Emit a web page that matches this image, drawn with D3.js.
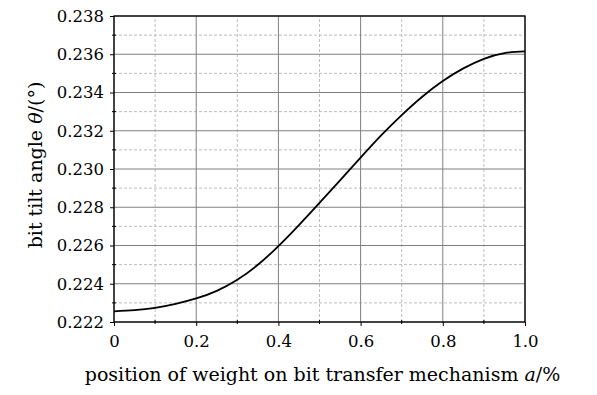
<!DOCTYPE html>
<html>
<head>
<meta charset="utf-8">
<script src="https://cdn.jsdelivr.net/npm/d3@7"></script>
<style>
  body { margin: 0; background: #fff; }
  text { font-family: "DejaVu Serif", serif; fill: #000; }
</style>
</head>
<body>
<div id="viz"></div>
<script>
var width = 597,
    height = 395,
    margin = {top: 16, right: 72, bottom: 73, left: 114};

// weight position a and tilt angle theta
var posA  = [0, 0.05, 0.1, 0.15, 0.2, 0.25, 0.3, 0.35, 0.4, 0.45, 0.5,
             0.55, 0.6, 0.65, 0.7, 0.75, 0.8, 0.85, 0.9, 0.95, 1.0];
var theta = [0.22256, 0.22262, 0.22274, 0.22295, 0.22323, 0.22363, 0.22421, 0.22499, 0.22597, 0.22707, 0.22823,
             0.22941, 0.23060, 0.23176, 0.23282, 0.23378, 0.23460, 0.23526, 0.23576, 0.23606, 0.23615];

var xTicks = [0, 0.2, 0.4, 0.6, 0.8, 1.0];
var xMinor = [0.1, 0.3, 0.5, 0.7, 0.9];
var yTicks = [0.222, 0.224, 0.226, 0.228, 0.230, 0.232, 0.234, 0.236, 0.238];
var yMinor = [0.223, 0.225, 0.227, 0.229, 0.231, 0.233, 0.235, 0.237];

var pts = posA.map(function(a, i) { return {a: a, t: theta[i]}; });

var svg = d3.select("#viz").append("svg")
    .attr("width", width)
    .attr("height", height);

var x = d3.scaleLinear().domain([0, 1]).range([margin.left, width - margin.right]);
var y = d3.scaleLinear().domain([0.222, 0.238]).range([height - margin.bottom, margin.top]);

var grid = svg.append("g");

// dashed minor grid
grid.selectAll("line.vmin").data(xMinor).enter().append("line")
    .attr("x1", d => x(d)).attr("x2", d => x(d))
    .attr("y1", y(0.222)).attr("y2", y(0.238))
    .style("stroke", "#bdbdbd").style("stroke-dasharray", "3,2");
grid.selectAll("line.hmin").data(yMinor).enter().append("line")
    .attr("y1", d => y(d)).attr("y2", d => y(d))
    .attr("x1", x(0)).attr("x2", x(1))
    .style("stroke", "#bdbdbd").style("stroke-dasharray", "3,2");

// solid major grid
grid.selectAll("line.vmaj").data(xTicks).enter().append("line")
    .attr("x1", d => x(d)).attr("x2", d => x(d))
    .attr("y1", y(0.222)).attr("y2", y(0.238))
    .style("stroke", "#808080");
grid.selectAll("line.hmaj").data(yTicks).enter().append("line")
    .attr("y1", d => y(d)).attr("y2", d => y(d))
    .attr("x1", x(0)).attr("x2", x(1))
    .style("stroke", "#808080");

// axes
var xAxis = d3.axisBottom(x).tickValues(xTicks)
    .tickFormat(d => d === 0 ? "0" : d3.format(".1f")(d))
    .tickSize(4).tickPadding(9);
var yAxis = d3.axisLeft(y).tickValues(yTicks)
    .tickFormat(d3.format(".3f"))
    .tickSize(4).tickPadding(6);

var gx = svg.append("g")
    .attr("transform", "translate(0," + y(0.222) + ")")
    .call(xAxis);
var gy = svg.append("g")
    .attr("transform", "translate(" + x(0) + ",0)")
    .call(yAxis);

[gx, gy].forEach(function(g) {
  g.select(".domain").remove();
  g.selectAll(".tick line").style("stroke", "#000");
  g.selectAll(".tick text").style("font-size", "16.5px").style("font-family", "DejaVu Serif");
});

// minor ticks
svg.selectAll("line.xmt").data(xMinor).enter().append("line")
    .attr("x1", d => x(d)).attr("x2", d => x(d))
    .attr("y1", y(0.222) - 2).attr("y2", y(0.222) + 2)
    .style("stroke", "#000");
svg.selectAll("line.ymt").data(yMinor).enter().append("line")
    .attr("y1", d => y(d)).attr("y2", d => y(d))
    .attr("x1", x(0) - 2).attr("x2", x(0) + 2)
    .style("stroke", "#000");

// frame
svg.append("rect")
    .attr("x", x(0)).attr("y", y(0.238))
    .attr("width", x(1) - x(0)).attr("height", y(0.222) - y(0.238))
    .style("fill", "none").style("stroke", "#000").style("stroke-width", 1.3);

// curve
var line = d3.line()
    .x(d => x(d.a))
    .y(d => y(d.t))
    .curve(d3.curveNatural);

svg.append("path")
    .datum(pts)
    .attr("d", line)
    .style("fill", "none")
    .style("stroke", "#000")
    .style("stroke-width", 1.8);

// axis titles
var xt = svg.append("text")
    .attr("x", (x(0) + x(1)) / 2 + 3)
    .attr("y", 381)
    .attr("text-anchor", "middle")
    .style("font-size", "19px");
xt.append("tspan").text("position of weight on bit transfer mechanism ");
xt.append("tspan").style("font-style", "italic").text("a");
xt.append("tspan").text("/%");

var yt = svg.append("text")
    .attr("transform", "translate(42,165) rotate(-90)")
    .attr("text-anchor", "middle")
    .style("font-size", "19px");
yt.append("tspan").text("bit tilt angle ");
yt.append("tspan").style("font-style", "italic").text("θ");
yt.append("tspan").text("/(°)");
</script>
</body>
</html>
